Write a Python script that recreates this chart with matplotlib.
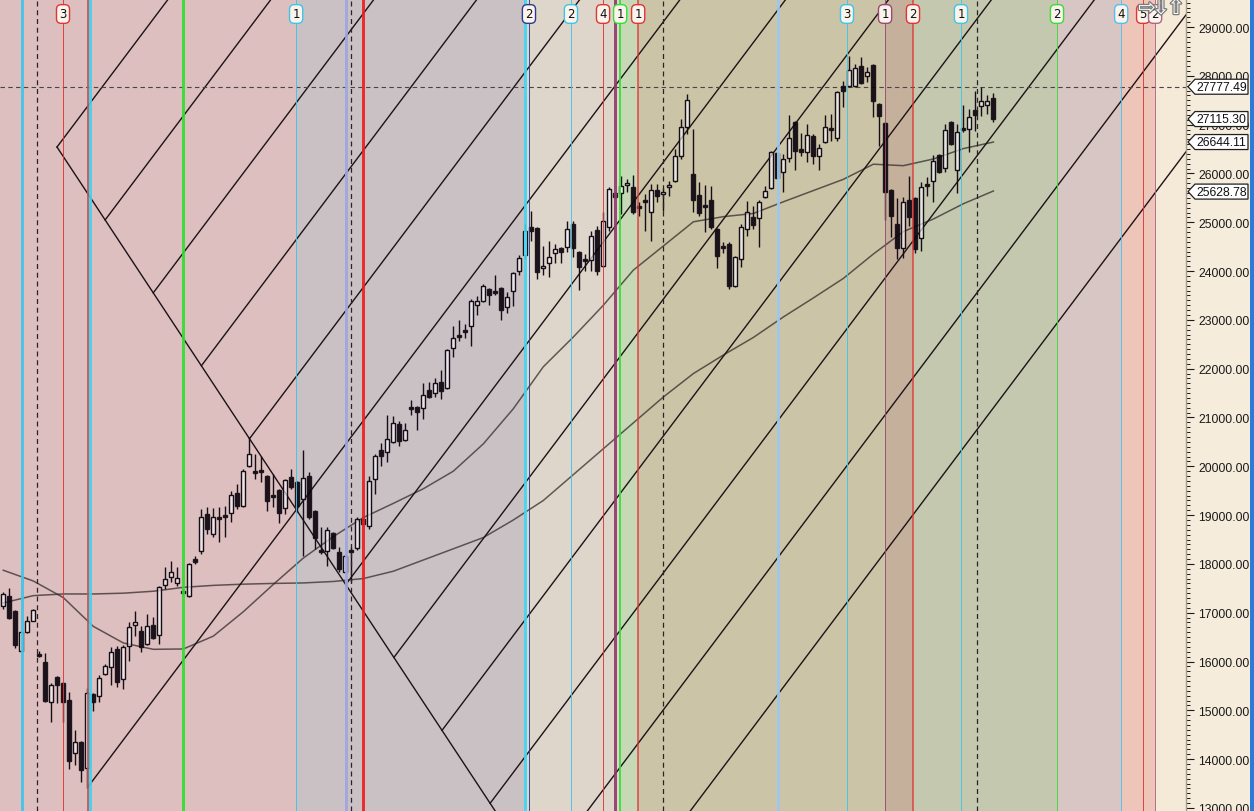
import matplotlib
matplotlib.use("Agg")
import matplotlib.pyplot as plt
from matplotlib.patches import Rectangle, Polygon
from matplotlib.ticker import MultipleLocator, FormatStrFormatter
import matplotlib.transforms as mtransforms
import matplotlib.patheffects as pe

W, H, DPI = 1254, 812, 100

# ---------------- data ----------------
opens = [17138, 17342, 17035, 16216, 16605, 16830, 16154, 15990, 15171, 15683,
         15560, 15212, 14126, 14351, 13818, 15334, 15293, 15744, 15888, 16256,
         15642, 16318, 16748, 16625, 16359, 16748, 16543, 17568, 17732, 17609,
         17445, 17342, 18100, 18264, 19023, 18613, 18961, 19002, 19043, 19453,
         19187, 20006, 19904, 19924, 19801, 19412, 19514, 19146, 19781, 19678,
         19330, 19801, 19084, 18285, 18264, 18633, 18244, 17834, 18285, 18326,
         18920, 18777, 19740, 20334, 20293, 20498, 20867, 20539, 21215, 21215,
         21194, 21563, 21502, 21727, 21604, 22424, 22690, 22793, 22875, 23305,
         23387, 23633, 23592, 23653, 23264, 23592, 24002, 24330, 24903, 24883,
         24063, 24166, 24371, 24473, 24494, 24965, 24391, 24248, 24227, 24842,
         24104, 24903, 25600, 25600, 25764, 25723, 25334, 25457, 25211, 25661,
         25579, 25723, 25846, 26358, 26952, 25989, 25559, 25354, 25457, 24862,
         24514, 24555, 23694, 24248, 24862, 25108, 25088, 25518, 25702, 26420,
         26030, 26317, 27055, 26502, 26440, 26767, 26358, 26645, 26932, 26727,
         27792, 27792, 27792, 28202, 27997, 28223, 27424, 27034, 25661, 24965,
         24473, 25457, 25498, 24678, 25784, 25846, 26379, 26112, 27055, 26071,
         26932, 26911, 27301, 27383, 27403, 27547]
highs = [17424, 17506, 17060, 16605, 16933, 17080, 16216, 16174, 15560, 15703,
         15580, 15376, 14597, 14370, 15457, 15355, 15724, 15949, 16297, 16318,
         16338, 16810, 17035, 16728, 16974, 16912, 17547, 17936, 18060, 17936,
         17486, 18020, 18162, 19125, 19166, 19146, 19166, 19187, 19494, 19637,
         19945, 20600, 20252, 20211, 19820, 19842, 19530, 19740, 19945, 19700,
         20334, 19883, 19105, 18756, 18756, 18650, 18346, 18180, 18346, 18961,
         18940, 19801, 20252, 20477, 21051, 21031, 20928, 20887, 21358, 21235,
         21707, 21727, 21809, 21973, 22403, 22875, 22998, 22916, 23428, 23489,
         23735, 23653, 23920, 23670, 23571, 23981, 24330, 24965, 25231, 24903,
         24514, 24616, 24555, 24490, 25026, 25026, 24410, 24350, 24821, 24924,
         25211, 25723, 25620, 25948, 25887, 25969, 25416, 25579, 25784, 25784,
         25702, 25846, 26500, 27116, 27628, 26911, 25825, 25764, 25743, 24880,
         24596, 24596, 24309, 24965, 25436, 25334, 25457, 25743, 26460, 26440,
         26399, 27198, 27075, 26829, 27014, 26809, 26604, 27198, 27219, 27690,
         27895, 28407, 28243, 28387, 28182, 28243, 27440, 27055, 25680, 25498,
         25518, 25948, 25518, 25825, 25928, 26379, 26399, 27014, 27075, 27014,
         27403, 27321, 27690, 27772, 27608, 27649]
lows = [17076, 16871, 16277, 16216, 16584, 16820, 16093, 15171, 14761, 15150,
        14761, 13798, 13880, 13531, 13408, 14986, 15171, 15724, 15519, 15478,
        15437, 16011, 16523, 16195, 16338, 16461, 16359, 17486, 17629, 17547,
        17383, 17320, 17998, 18203, 18613, 18551, 18449, 18551, 18859, 19125,
        19166, 19990, 19740, 19678, 19084, 19166, 18838, 19023, 19535, 19064,
        18162, 18920, 18305, 18203, 17957, 18310, 17834, 17820, 17629, 18285,
        18800, 18715, 19433, 20006, 20088, 20477, 20416, 20520, 21051, 20744,
        20969, 21399, 21420, 21379, 21590, 22240, 22567, 22629, 22465, 23100,
        23366, 23305, 23510, 22998, 23141, 23284, 23920, 24248, 24616, 23838,
        23920, 23879, 24166, 24166, 24391, 24289, 23612, 24002, 24002, 23920,
        24090, 24821, 25500, 25170, 25621, 25170, 25129, 24821, 24616, 25416,
        25231, 25539, 25830, 26300, 26809, 25211, 25129, 24801, 24862, 24063,
        24371, 23633, 23674, 24084, 24719, 24862, 24494, 25498, 25682, 25890,
        25621, 26235, 26071, 26358, 26235, 26194, 26071, 26625, 26665, 26665,
        27362, 27772, 27772, 27833, 27874, 27157, 26563, 25047, 24698, 24248,
        24268, 24924, 24371, 24412, 25539, 25416, 26010, 26030, 26584, 25600,
        26850, 26440, 26870, 27178, 27219, 27055]
closes = [17383, 16892, 16338, 16605, 16830, 17056, 16113, 15191, 15519, 15519,
          15171, 13962, 14351, 13777, 15355, 15171, 15662, 15908, 16195, 15580,
          16297, 16707, 16810, 16297, 16728, 16482, 17527, 17690, 17834, 17711,
          17404, 17998, 18039, 18961, 18715, 18961, 18920, 18961, 19412, 19187,
          19904, 20252, 19863, 19883, 19289, 19371, 19043, 19719, 19576, 19187,
          19760, 18961, 18531, 18244, 18695, 18326, 17896, 18162, 18244, 18920,
          18818, 19699, 20211, 20211, 20559, 20887, 20518, 20744, 21174, 21113,
          21461, 21420, 21707, 21543, 22383, 22629, 22649, 22752, 23387, 23387,
          23694, 23510, 23551, 23202, 23469, 23961, 24268, 24821, 24821, 23981,
          24104, 24289, 24452, 24391, 24862, 24473, 24084, 24207, 24719, 24002,
          25026, 25682, 25518, 25743, 25805, 25211, 25293, 25416, 25661, 25539,
          25620, 25764, 26358, 26952, 27506, 25457, 25190, 25313, 24903, 24309,
          24473, 23694, 24289, 24903, 25211, 24944, 25416, 25641, 26440, 25907,
          26297, 26727, 26461, 26440, 26788, 26358, 26522, 26952, 26891, 27670,
          27690, 28120, 28161, 27854, 28079, 27485, 27178, 25621, 25129, 24473,
          25416, 25108, 24452, 25723, 25743, 26256, 26030, 26891, 26604, 26850,
          26891, 27157, 27198, 27485, 27485, 27115]

ma_bars = list(range(0, 166, 5))
ma_fast = [17870, 17650, 17310, 16720, 16380, 16250, 16257, 16520, 17020, 17580,
           18120, 18560, 18950, 19240, 19540, 19900, 20460, 21180, 22040, 22650,
           23300, 24020, 24514, 25010, 25115, 25180, 25420, 25650, 25880, 26190,
           26160, 26297, 26510, 26644]
ma_slow = [17200, 17350, 17384, 17384, 17400, 17440, 17520, 17560, 17585, 17600,
           17610, 17640, 17700, 17850, 18080, 18310, 18540, 18900, 19300, 19830,
           20360, 20890, 21420, 21900, 22280, 22640, 23060, 23450, 23850, 24350,
           24810, 25067, 25380, 25641]

# time-cycle vertical markers (bar positions) and their labels
vl_bar = [3.1, 5.6, 9.95, 14.1, 14.45, 29.95, 48.8, 57.05, 57.95, 59.95,
          87.0, 87.6, 94.6, 99.95, 101.95, 102.8, 105.8, 109.95, 129.1, 140.6,
          146.95, 151.6, 159.6, 162.3, 175.6, 186.3, 189.95, 191.95]
vl_label = ['', '', '3', '', '', '', '1', '', '', '',
            '', '2', '2', '4', '', '1', '1', '', '', '3',
            '1', '2', '1', '', '2', '4', '5', '2']

# background zones between markers
band_edges = [-0.55, 48.8, 87.0, 102.8, 105.8, 146.95, 151.6, 175.6, 186.3, 191.95, 197.2]

# Gann-style fan: apex, slopes (price per bar), spacing of the rays
fan_apex_bar, fan_apex_price = 8.95, 26542
fan_down_slope, fan_up_slope = -186.3, 163.5
fan_step = 8.02
fan_ray_steps = [0, 1, 2, 3, 4, 6, 7, 8, 9, 10, 11]
low_ray_bar, low_ray_price = 14.1, 13429

hline_value = 27777.49
tag_values = [27777.49, 27115.30, 26644.11, 25628.78]

# ---------------- styles ----------------
CY = '#3CC6EA'; RD = '#E23434'; DS = 'dash'
vl_color = [CY, DS, RD, '#C05858', '#3CD4F2', '#2EE02E', CY, '#9EA6E2', DS, '#F21C1C',
            '#3CD8F4', '#2C3A94', CY, RD, '#8E3A68', '#34E034', RD, DS, '#9CC8F0', CY,
            '#9A4A72', RD, CY, DS, '#3CDA3C', '#50C0F0', RD, '#B06486']
vl_px = [3, 1, 1, 2, 3, 3, 1, 3, 1, 3,
         3, 1, 1, 1, 3, 2, 1.5, 1, 3, 1,
         1, 1.5, 1, 1, 1, 1, 1, 1]
band_colors = ['#DCBFBE', '#C9C1C4', '#DED6CB', '#C7D8B6', '#CCC4A6',
               '#C5B09C', '#C3C8AF', '#D8C6C4', '#EEC5B9', '#F5EAD8']

fig = plt.figure(figsize=(W / DPI, H / DPI), dpi=DPI)
fig.patch.set_facecolor('#F5ECDC')
ax = fig.add_axes([0, 0, 1186 / W, 1])
ax.set_xlim(-0.55, 197.1)
ax.set_ylim(12937, 29575)
ax.set_facecolor('#F5EAD8')

for k in range(len(band_colors)):
    ax.axvspan(band_edges[k], band_edges[k + 1], color=band_colors[k], lw=0, zorder=0)

# moving averages
ax.plot(ma_bars, ma_fast, color='#2E2626', lw=1.1, alpha=0.72, zorder=1)
ax.plot(ma_bars, ma_slow, color='#2E2626', lw=1.1, alpha=0.72, zorder=1)

# fan lines
ytop, ybot = ax.get_ylim()[1], ax.get_ylim()[0]
down_end = fan_apex_bar + (ybot - fan_apex_price) / fan_down_slope
ax.plot([fan_apex_bar, down_end], [fan_apex_price, ybot], color='#1C1218', lw=1.0, zorder=1)
for k in fan_ray_steps:
    b0 = fan_apex_bar + k * fan_step
    p0 = fan_apex_price + fan_down_slope * (b0 - fan_apex_bar)
    b1 = b0 + (ytop - p0) / fan_up_slope
    ax.plot([b0, b1], [p0, ytop], color='#1C1218', lw=1.0, zorder=1)
b1 = low_ray_bar + (ytop - low_ray_price) / fan_up_slope
ax.plot([low_ray_bar, b1], [low_ray_price, ytop], color='#1C1218', lw=1.0, zorder=1)

# horizontal dashed level
ax.axhline(hline_value, color='#4A4444', lw=0.8, ls=(0, (4, 3)), zorder=1)

# candles
edge = '#160E16'
bw = 0.66
for i in range(len(opens)):
    o, h, l, c = opens[i], highs[i], lows[i], closes[i]
    top, bot = max(o, c), min(o, c)
    if top - bot < 30:
        m = (top + bot) / 2
        top, bot = m + 15, m - 15
    ax.plot([i, i], [top, max(h, top)], color=edge, lw=1.0, zorder=3, solid_capstyle='butt')
    ax.plot([i, i], [min(l, bot), bot], color=edge, lw=1.0, zorder=3, solid_capstyle='butt')
    if c >= o:
        ax.add_patch(Rectangle((i - bw / 2, bot), bw, top - bot, fc='#F8F6FC', alpha=0.66,
                               ec='none', zorder=3))
        ax.add_patch(Rectangle((i - bw / 2, bot), bw, top - bot, fc='none', ec=edge,
                               lw=1.0, zorder=3.1))
    else:
        ax.add_patch(Rectangle((i - bw / 2, bot), bw, top - bot, fc='#07000A', alpha=0.9,
                               ec=edge, lw=1.0, zorder=3))

# vertical markers + labels
lab_tr = mtransforms.blended_transform_factory(ax.transData, ax.transAxes)
for b, col, px, lab in zip(vl_bar, vl_color, vl_px, vl_label):
    if col == DS:
        ax.axvline(b, color='#2A2228', lw=0.9, ls=(0, (4, 3)), zorder=4)
    else:
        ax.axvline(b, color=col, lw=px * 0.72, alpha=0.9, zorder=4)
        if lab:
            ax.text(b, 1 - 15 / H, lab, transform=lab_tr, ha='center', va='center',
                    fontsize=8.5, color='#101010', zorder=6, family='DejaVu Sans',
                    bbox=dict(boxstyle='round,pad=0.24,rounding_size=0.4',
                              fc='#FAF4EC', ec=col, lw=1.0))

# axis styling
for s in ['left', 'top', 'bottom']:
    ax.spines[s].set_visible(False)
ax.spines['right'].set_color('#A89C8C')
ax.spines['right'].set_linewidth(1.0)
ax.set_xticks([])
ax.yaxis.tick_right()
ax.yaxis.set_major_locator(MultipleLocator(1000))
ax.yaxis.set_minor_locator(MultipleLocator(100))
ax.yaxis.set_major_formatter(FormatStrFormatter('%.2f'))
ax.tick_params(axis='y', which='major', length=6, width=0.8, colors='#1A1A1A',
               labelsize=8.8, pad=3)
ax.tick_params(axis='y', which='minor', length=3, width=0.7, colors='#1A1A1A')
for t in ax.get_yticklabels():
    t.set_family('Liberation Sans')

# price tags
ident = mtransforms.IdentityTransform()
for v in tag_values:
    y = ax.transData.transform((0, v))[1]
    x0, x1, hh = 1188, 1248, 7.5
    poly = Polygon([(x0, y), (x0 + 7, y + hh), (x1, y + hh), (x1, y - hh), (x0 + 7, y - hh)],
                   closed=True, transform=ident, fc='white', ec='#202020', lw=0.9,
                   zorder=10)
    fig.add_artist(poly)
    fig.text((x0 + 8.5) / W, y / H, '%.2f' % v, ha='left', va='center', fontsize=8.8,
             family='Liberation Sans', color='#101010', zorder=11)

# right blue strip
fig.add_artist(Rectangle((1250 / W, 0), 4 / W, 1, transform=fig.transFigure,
                         fc='#2C7BD6', ec='none'))

# small navigation arrows at the top right
for xp, ch in [(1147, '\u21e8'), (1161, '\u21e9'), (1176, '\u21e7')]:
    fig.text(xp / W, 1 - 9 / H, ch, ha='center', va='center', fontsize=15,
             color='#FFFFFF', family='DejaVu Sans', zorder=12,
             path_effects=[pe.withStroke(linewidth=1.8, foreground='#7A7A7A')])

fig.savefig('out.png', dpi=DPI, facecolor=fig.get_facecolor())
